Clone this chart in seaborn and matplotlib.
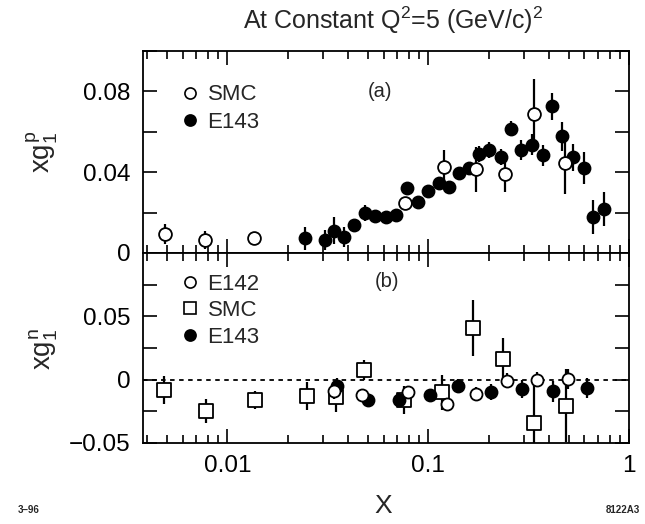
import numpy as np
import pandas as pd
import matplotlib
matplotlib.use("Agg")
import matplotlib.pyplot as plt
from matplotlib.lines import Line2D
from matplotlib.ticker import FixedLocator, NullFormatter, LogLocator
import seaborn as sns

# ---------------- data ----------------
p_smc_x = [0.0049, 0.0077, 0.0135, 0.0767, 0.1205, 0.1725, 0.2415, 0.338, 0.482]
p_smc_y = [0.0093, 0.0065, 0.0073, 0.0245, 0.0424, 0.0414, 0.039, 0.069, 0.0444]
p_smc_e = [0.005, 0.0045, 0.003, 0.003, 0.0085, 0.011, 0.0087, 0.017, 0.0153]

p_e143_x = [0.0244, 0.0306, 0.0341, 0.0383, 0.0428, 0.0485, 0.0544, 0.0615, 0.0692,
            0.0787, 0.0887, 0.100, 0.113, 0.127, 0.1426, 0.1597, 0.1786, 0.2018,
            0.2298, 0.2576, 0.289, 0.328, 0.372, 0.415, 0.466, 0.525, 0.597, 0.665, 0.752]
p_e143_y = [0.0073, 0.0065, 0.011, 0.008, 0.0138, 0.020, 0.0184, 0.0176, 0.019,
            0.0322, 0.025, 0.0305, 0.0345, 0.0328, 0.0396, 0.0421, 0.0488, 0.0511,
            0.0474, 0.0614, 0.0511, 0.0537, 0.0483, 0.0726, 0.0577, 0.0474, 0.0421, 0.0179, 0.0217]
p_e143_e = [0.0057, 0.005, 0.0067, 0.005, 0.003, 0.004, 0.003, 0.003, 0.003,
            0.003, 0.003, 0.003, 0.003, 0.003, 0.003, 0.003, 0.004, 0.004,
            0.004, 0.0037, 0.005, 0.005, 0.005, 0.0066, 0.007, 0.0066, 0.008, 0.0083, 0.0083]

n_e142_x = [0.034, 0.047, 0.079, 0.1245, 0.1725, 0.2477, 0.3468, 0.499]
n_e142_y = [-0.0093, -0.012, -0.0101, -0.0193, -0.0111, -0.0008, 0.0, 0.0006]
n_e142_e = [0.006, 0.005, 0.005, 0.005, 0.005, 0.006, 0.006, 0.008]

n_smc_x = [0.00485, 0.00783, 0.0138, 0.0248, 0.0349, 0.048, 0.076, 0.1177, 0.168, 0.2366, 0.3366, 0.484]
n_smc_y = [-0.0079, -0.0251, -0.0159, -0.0127, -0.0138, 0.0074, -0.0159, -0.0101, 0.041, 0.0164, -0.0339, -0.0206]
n_smc_e = [0.011, 0.0095, 0.007, 0.011, 0.0115, 0.008, 0.011, 0.014, 0.022, 0.0165, 0.033, 0.029]

n_e143_x = [0.0353, 0.0504, 0.0717, 0.102, 0.1413, 0.205, 0.294, 0.42, 0.621]
n_e143_y = [-0.0048, -0.0159, -0.0159, -0.0124, -0.0048, -0.0098, -0.0071, -0.0093, -0.0066]
n_e143_e = [0.006, 0.005, 0.005, 0.005, 0.005, 0.006, 0.007, 0.008, 0.008]

x_ticks = [0.01, 0.1, 1]
x_ticklabels = ["0.01", "0.1", "1"]

# ---------------- style ----------------
sns.set_style("ticks")
plt.rcParams["font.family"] = ["Liberation Sans", "DejaVu Sans"]
plt.rcParams["mathtext.fontset"] = "custom"
plt.rcParams["mathtext.rm"] = "Liberation Sans"
plt.rcParams["mathtext.it"] = "Liberation Sans"

fig = plt.figure(figsize=(6.45, 5.24), dpi=100)
ax1 = fig.add_axes([0.2217, 0.5172, 0.7535, 0.3855])
ax2 = fig.add_axes([0.2217, 0.1546, 0.7535, 0.3626])

def draw(ax, xs, ys, es, marker, filled, size, zorder):
    df = pd.DataFrame({"x": xs, "y": ys})
    ax.errorbar(xs, ys, yerr=es, fmt="none", ecolor="black", elinewidth=1.6,
                capsize=0, zorder=zorder)
    sns.scatterplot(data=df, x="x", y="y", ax=ax, marker=marker, s=size,
                    color="black" if filled else "white", edgecolor="black",
                    linewidth=1.3, zorder=zorder + 1, legend=False)

draw(ax1, p_e143_x, p_e143_y, p_e143_e, "o", True, 75, 3)
draw(ax1, p_smc_x, p_smc_y, p_smc_e, "o", False, 85, 5)

ax2.axhline(0, color="black", ls=(0, (2.5, 2.5)), lw=1.3, zorder=1)
draw(ax2, n_smc_x, n_smc_y, n_smc_e, "s", False, 90, 3)
draw(ax2, n_e143_x, n_e143_y, n_e143_e, "o", True, 75, 5)
draw(ax2, n_e142_x, n_e142_y, n_e142_e, "o", False, 75, 7)

for ax in (ax1, ax2):
    ax.set_xscale("log")
    ax.set_xlim(0.0038, 1.0)
    ax.xaxis.set_major_locator(FixedLocator(x_ticks))
    ax.xaxis.set_minor_locator(LogLocator(base=10, subs=np.arange(2, 10)))
    ax.xaxis.set_minor_formatter(NullFormatter())
    ax.tick_params(which="both", direction="in", top=True, right=True,
                   width=1.2, colors="black", labelsize=17.5)
    ax.tick_params(which="major", length=10)
    ax.tick_params(which="minor", length=6)
    ax.tick_params(axis="y", pad=9)
    ax.set_xlabel("")
    ax.set_ylabel("")
    for s in ax.spines.values():
        s.set_linewidth(1.3)
        s.set_color("black")

ax1.set_ylim(0, 0.1)
ax1.yaxis.set_major_locator(FixedLocator([0, 0.04, 0.08]))
ax1.yaxis.set_minor_locator(FixedLocator([0.02, 0.06, 0.1]))
ax1.set_yticklabels(["0", "0.04", "0.08"])
ax1.tick_params(axis="y", which="minor", length=10)
ax1.set_xticklabels([])

ax2.set_ylim(-0.05, 0.1)
ax2.yaxis.set_major_locator(FixedLocator([-0.05, 0, 0.05]))
ax2.yaxis.set_minor_locator(FixedLocator([-0.025, 0.025, 0.075]))
ax2.set_yticklabels(["\u22120.05", "0", "0.05"])
ax2.tick_params(axis="y", which="minor", length=10)
ax2.set_xticklabels(x_ticklabels)
ax2.tick_params(axis="x", pad=9)

# legends
h_smc = Line2D([], [], ls="none", marker="o", mfc="white", mec="black", ms=8, mew=1.2)
h_e143 = Line2D([], [], ls="none", marker="o", mfc="black", mec="black", ms=8, mew=1.2)
h_sq = Line2D([], [], ls="none", marker="s", mfc="white", mec="black", ms=8.5, mew=1.2)
ax1.legend([h_smc, h_e143], ["SMC", "E143"], loc="upper left",
           bbox_to_anchor=(0.055, 0.89), frameon=False, fontsize=16,
           handlelength=0.8, handletextpad=0.4, labelspacing=0.3, borderpad=0)
ax2.legend([h_smc, h_sq, h_e143], ["E142", "SMC", "E143"], loc="upper left",
           bbox_to_anchor=(0.055, 0.95), frameon=False, fontsize=16,
           handlelength=0.8, handletextpad=0.4, labelspacing=0.25, borderpad=0)

ax1.text(0.488, 0.8, "(a)", transform=ax1.transAxes, ha="center", va="center", fontsize=14.5)
ax2.text(0.502, 0.85, "(b)", transform=ax2.transAxes, ha="center", va="center", fontsize=14.5)

fig.text(0.065, 0.71, "$xg_1^p$", rotation=90, ha="center", va="center", fontsize=20)
fig.text(0.068, 0.335, "$xg_1^n$", rotation=90, ha="center", va="center", fontsize=20)
fig.text(0.610, 0.962, "At Constant Q$^2$=5 (GeV/c)$^2$", ha="center", va="center", fontsize=18)
fig.text(0.594, 0.035, "X", ha="center", va="center", fontsize=19)
fig.text(0.028, 0.027, "3\u201396", ha="left", va="center", fontsize=7, fontweight="bold")
fig.text(0.993, 0.027, "8122A3", ha="right", va="center", fontsize=7, fontweight="bold")

fig.savefig("out.png", dpi=100)
